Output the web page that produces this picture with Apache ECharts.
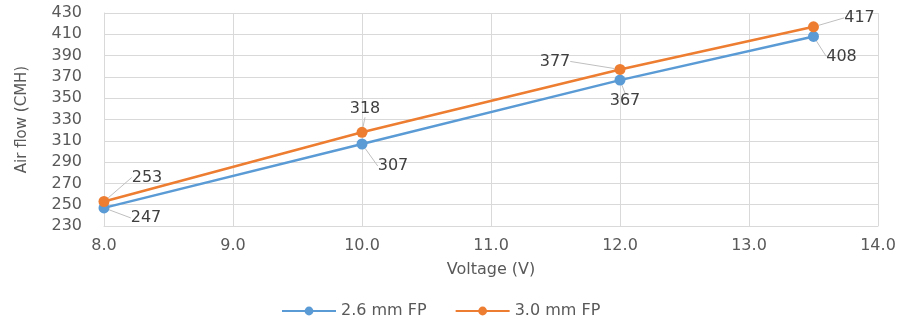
<!DOCTYPE html>
<html><head><meta charset="utf-8">
<script src="https://cdn.jsdelivr.net/npm/echarts@6/dist/echarts.min.js"></script>
<style>html,body{margin:0;padding:0;background:#fff}#c{width:903px;height:325px}</style>
</head><body><div id="c"></div>
<script>
const voltages = [8.0, 10.0, 12.0, 13.5];
const seriesNames = ['2.6 mm FP', '3.0 mm FP'];
const flow26 = [247, 307, 367, 408];
const flow30 = [253, 318, 377, 417];
const xTicks = [8.0, 9.0, 10.0, 11.0, 12.0, 13.0, 14.0];
const yTicks = [230, 250, 270, 290, 310, 330, 350, 370, 390, 410, 430];

const FONT = 'DejaVu Sans';
const labelOffsets = [
  [[42, 10], [31, 22], [5, 21], [28, 20]],
  [[43, -24], [3, -23], [-65, -8], [46, -9]]
];
const chart = echarts.init(document.getElementById('c'));
function mk(i, data, color) {
  return {
    name: seriesNames[i], type: 'line',
    data: voltages.map((v, k) => [v, data[k]]),
    symbol: 'circle', symbolSize: 11,
    lineStyle: { color, width: 2.5 },
    itemStyle: { color },
    label: { show: true, position: 'inside', color: '#404040', fontFamily: FONT, fontSize: 16 },
    labelLine: { show: true, lineStyle: { color: '#bfbfbf', width: 1 } },
    labelLayout: p => ({ dx: labelOffsets[i][p.dataIndex][0], dy: labelOffsets[i][p.dataIndex][1] }),
    z: 2 + i
  };
}
chart.setOption({
  animation: false,
  grid: { left: 104, right: 25, top: 13, bottom: 99 },
  legend: {
    bottom: 1, left: 276, itemWidth: 54, itemHeight: 11, itemGap: 28,
    textStyle: { color: '#595959', fontFamily: FONT, fontSize: 16 },
    data: seriesNames
  },
  xAxis: {
    type: 'value', min: xTicks[0], max: xTicks[xTicks.length - 1], interval: 1,
    name: 'Voltage (V)', nameLocation: 'middle', nameGap: 36,
    nameTextStyle: { color: '#595959', fontFamily: FONT, fontSize: 16 },
    axisLine: { show: true, lineStyle: { color: '#d9d9d9' } },
    axisTick: { show: false },
    axisLabel: { color: '#595959', fontFamily: FONT, fontSize: 16, margin: 12, formatter: v => v.toFixed(1) },
    splitLine: { show: true, lineStyle: { color: '#d9d9d9' } }
  },
  yAxis: {
    type: 'value', min: yTicks[0], max: yTicks[yTicks.length - 1], interval: 20,
    name: 'Air flow (CMH)', nameLocation: 'middle', nameGap: 74,
    nameTextStyle: { color: '#595959', fontFamily: FONT, fontSize: 15 },
    axisLine: { show: true, lineStyle: { color: '#d9d9d9' } },
    axisTick: { show: false },
    axisLabel: { color: '#595959', fontFamily: FONT, fontSize: 16, margin: 22 },
    splitLine: { show: true, lineStyle: { color: '#d9d9d9' } }
  },
  series: [mk(0, flow26, '#5B9BD5'), mk(1, flow30, '#ED7D31')]
});
</script></body></html>
